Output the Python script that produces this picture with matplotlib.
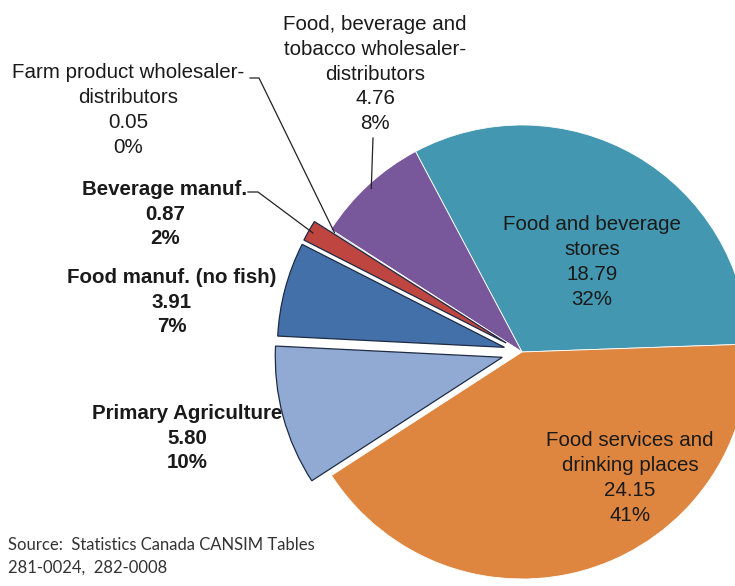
import numpy as np
import matplotlib.pyplot as plt

# Food-system GDP shares (billions $) by sector
sectors = [
    "Food and beverage\nstores",
    "Food, beverage and\ntobacco wholesaler-\ndistributors",
    "Farm product wholesaler-\ndistributors",
    "Beverage manuf.",
    "Food manuf. (no fish)",
    "Primary Agriculture",
    "Food services and\ndrinking places",
]
values = [18.79, 4.76, 0.05, 0.87, 3.91, 5.80, 24.15]
pct_labels = ["32%", "8%", "0%", "2%", "7%", "10%", "41%"]
source_note = "Source:  Statistics Canada CANSIM Tables\n281-0024,  282-0008"

colors = ["#4397B0", "#78579A", "#7F8FA8", "#BF4540", "#4470A9", "#91AAD4", "#DE863F"]
explode = [0, 0, 0, 0.08, 0.08, 0.09, 0]
bold = [False, False, False, True, True, True, False]
outlined = [False, False, False, True, True, True, False]

W, H = 735, 586
CX, CY, R = 522, 352, 227  # pie centre and radius in pixels


def px(x, y):
    """Pixel position (from top-left) -> data coords of the pie axes."""
    return (x - CX) / R, (CY - y) / R


fig = plt.figure(figsize=(W / 100, H / 100), dpi=100)
ax = fig.add_axes([0, 0, 1, 1])
wedges, _ = ax.pie(values, colors=colors, explode=explode, startangle=2,
                   counterclock=True, radius=1.0,
                   wedgeprops=dict(linewidth=0.6, edgecolor="white"))
for w, o in zip(wedges, outlined):
    if o:
        w.set_edgecolor("#1E2B45")
        w.set_linewidth(0.9)

x0, y1 = px(0, 0)
x1, y0 = px(W, H)
ax.set_xlim(x0, x1)
ax.set_ylim(y0, y1)
ax.set_aspect("auto")
ax.axis("off")

# label centres in pixels
label_pos = [(592, 262), (375, 74), (128, 110), (165, 214), (172, 302), (187, 438), (630, 478)]
for name, v, pct, (lx, ly), b in zip(sectors, values, pct_labels, label_pos, bold):
    tx, ty = px(lx, ly)
    ax.text(tx, ty, f"{name}\n{v:.2f}\n{pct}", ha="center", va="center",
            fontsize=14.8, family="Liberation Sans", color="#1a1a1a",
            fontweight="bold" if b else "normal", linespacing=1.38)


def wedge_point(w, frac_r=0.98):
    ang = np.deg2rad((w.theta1 + w.theta2) / 2)
    cx, cy = w.center
    return cx + frac_r * w.r * np.cos(ang), cy + frac_r * w.r * np.sin(ang)


# leader lines for the small slices
leaders = {
    1: [(373, 138)],
    2: [(250, 78), (259, 78)],
    3: [(248, 192), (258, 192)],
}
for i, pts in leaders.items():
    xs = [px(*p)[0] for p in pts]
    ys = [px(*p)[1] for p in pts]
    ex, ey = wedge_point(wedges[i])
    ax.plot(xs + [ex], ys + [ey], color="#222222", lw=0.9)

sx, sy = px(8, 556)
ax.text(sx, sy, source_note, ha="left", va="center", fontsize=12,
        family="Lato", color="#333333", linespacing=1.5)

fig.savefig("out.png", dpi=100)
